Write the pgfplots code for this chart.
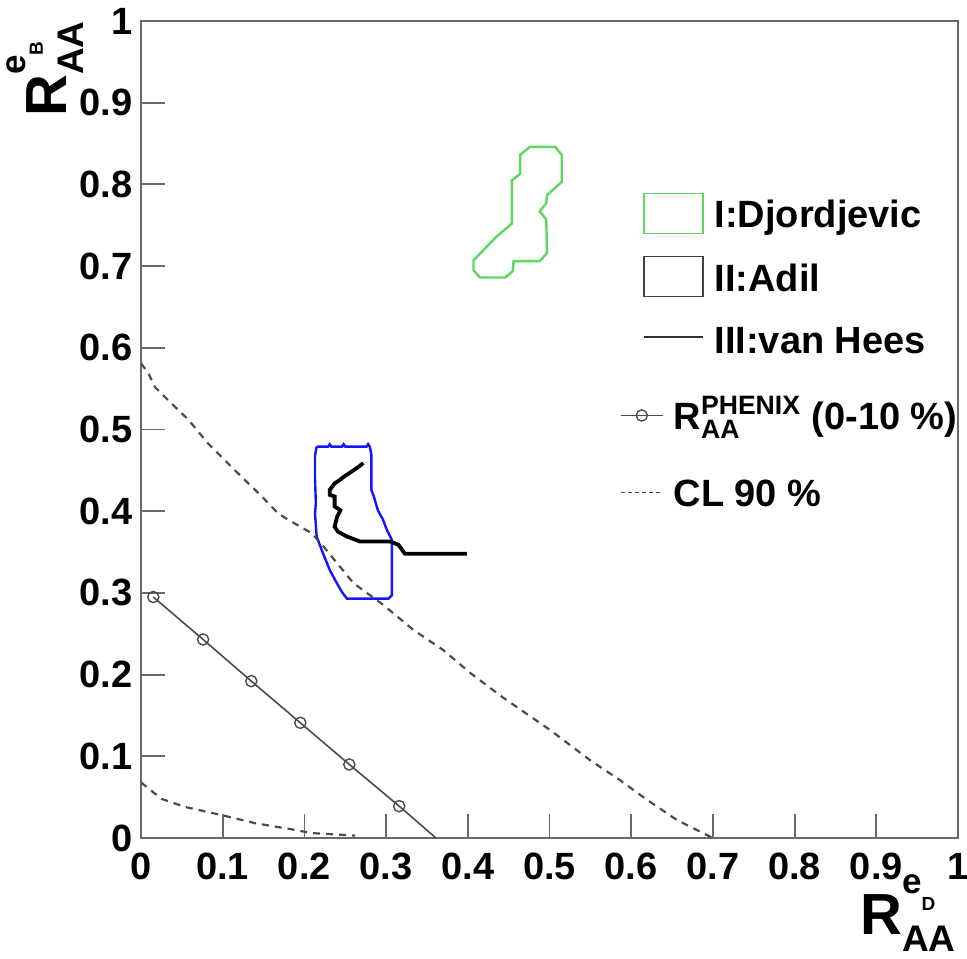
\documentclass[border=0pt]{standalone}
\usepackage{pgfplots}
\pgfplotsset{compat=1.18}
\usepackage{amsmath}
\usepackage{fontspec}
\setmainfont{Liberation Sans}
\definecolor{cgreen}{RGB}{95,215,95}
\definecolor{cblue}{RGB}{20,20,255}
\definecolor{caxis}{RGB}{105,105,105}
\definecolor{cdash}{RGB}{75,75,75}
\newcommand{\RAA}[1]{\bfseries\fontsize{29}{29}\selectfont R\makebox[0pt][l]{\raisebox{20.5pt}{\fontsize{17.5}{17.5}\selectfont e\raisebox{-8.5pt}{\fontsize{9.5}{9.5}\selectfont #1}}}\raisebox{-8.5pt}{\fontsize{18.5}{18.5}\selectfont AA}}
\begin{document}
\begin{tikzpicture}
\begin{axis}[
  scale only axis, width=408.5pt, height=408.5pt,
  xmin=0, xmax=1, ymin=0, ymax=1,
  xtick={0,0.1,0.2,0.3,0.4,0.5,0.6,0.7,0.8,0.9,1},
  ytick={0,0.1,0.2,0.3,0.4,0.5,0.6,0.7,0.8,0.9,1},
  xtick pos=bottom, ytick pos=left,
  tick align=inside,
  major tick length=12pt,
  axis line style={caxis, line width=1.1pt},
  every tick/.style={caxis, line width=0.9pt},
  /pgf/number format/assume math mode=true,
  ticklabel style={font=\fontsize{19}{19}\selectfont\bfseries},
  yticklabel style={inner sep=0pt, anchor=east, xshift=-4pt},
  xticklabel style={inner sep=0pt, anchor=north, yshift=-7.5pt},
  xlabel={\RAA{D}},
  ylabel={\RAA{B}},
  every axis x label/.style={at={(axis description cs:0.9975,-0.118)}, anchor=base east, inner sep=0pt},
  every axis y label/.style={at={(axis description cs:-0.0906,1.0)}, rotate=90, anchor=base east, inner sep=0pt},
  legend style={at={(axis cs:0.6144,0.790)}, anchor=north west, draw=none, fill=none,
    inner sep=0pt, outer sep=0pt, font=\fontsize{19}{19}\selectfont\bfseries,
    nodes={inner sep=0pt, text height=14pt, text depth=4.5pt},
    column sep=5.5pt, row sep=9.5pt},
  legend cell align=left,
  clip=false,
]
% legend entries
\addlegendimage{legend image code/.code={\draw[cgreen, line width=0.8pt] (0pt,-7.5pt) rectangle (29.5pt,12.5pt);}}
\addlegendentry{I:Djordjevic}
\addlegendimage{legend image code/.code={\draw[black!75, line width=0.8pt] (0pt,-7.5pt) rectangle (29.5pt,12.5pt);}}
\addlegendentry{II:Adil}
\addlegendimage{legend image code/.code={\path[draw=none, fill=none] (0pt,-7.5pt) rectangle (1pt,12.5pt); \draw[black!80, line width=0.8pt] (0pt,3.5pt) -- (29.5pt,3.5pt);}}
\addlegendentry{III:van Hees}

% I: Djordjevic contour (green)
\addplot[cgreen, line width=1.2pt, forget plot] coordinates {
(0.476,0.846)(0.507,0.846)(0.515,0.836)(0.515,0.803)(0.497,0.787)(0.496,0.777)
(0.488,0.767)(0.496,0.757)(0.497,0.716)(0.488,0.706)(0.456,0.706)(0.455,0.694)
(0.446,0.686)(0.415,0.686)(0.407,0.695)(0.407,0.707)(0.435,0.736)(0.454,0.752)
(0.454,0.805)(0.464,0.813)(0.464,0.836)(0.476,0.846)};

% II: Adil contour (blue)
\addplot[cblue, line width=1.2pt, forget plot] coordinates {
(0.215,0.479)(0.229,0.479)(0.231,0.482)(0.233,0.479)(0.246,0.479)(0.248,0.482)(0.250,0.479)
(0.276,0.479)(0.278,0.482)(0.280,0.479)(0.282,0.469)(0.282,0.426)(0.285,0.418)(0.290,0.401)
(0.296,0.390)(0.301,0.377)(0.307,0.365)(0.307,0.297)(0.303,0.293)(0.252,0.293)
(0.246,0.301)(0.238,0.315)(0.231,0.328)(0.221,0.353)(0.215,0.369)(0.213,0.397)
(0.214,0.410)(0.213,0.440)(0.213,0.468)(0.215,0.479)};

% III: van Hees (black)
\addplot[black, line width=1.9pt, forget plot] coordinates {
(0.272,0.459)(0.266,0.454)(0.260,0.450)(0.254,0.446)(0.248,0.442)(0.243,0.438)(0.237,0.434)
(0.231,0.426)(0.231,0.420)(0.237,0.418)(0.237,0.406)(0.244,0.401)(0.240,0.393)
(0.237,0.381)(0.241,0.375)(0.252,0.369)(0.268,0.363)(0.305,0.363)(0.315,0.359)
(0.323,0.348)(0.399,0.348)};
\end{axis}

\begin{axis}[
  scale only axis, width=408.5pt, height=408.5pt,
  xmin=0, xmax=1, ymin=0, ymax=1,
  hide axis,
  legend style={at={(axis cs:0.5863,0.5337)}, anchor=north west, draw=none, fill=none,
    inner sep=0pt, outer sep=0pt, font=\fontsize{19}{19}\selectfont\bfseries,
    nodes={inner sep=0pt, text height=14pt, text depth=4.5pt},
    column sep=5pt, row sep=20pt},
  legend cell align=left,
]
% PHENIX R_AA (0-10%)
\addplot[cdash, line width=0.8pt, mark=o, mark size=2.8pt, mark indices={1,2,3,4,5,6},
  mark options={solid, cdash, line width=0.7pt},
  legend image code/.code={\draw[mark indices={2}, mark size=2.8pt] plot coordinates {(0pt,2.5pt)(10.5pt,2.5pt)(21pt,2.5pt)};}]
coordinates {
(0.015,0.295)(0.076,0.243)(0.135,0.192)(0.195,0.141)(0.255,0.090)(0.316,0.039)(0.361,0)};
% CL 90% (dashed)
\addplot[cdash, line width=1.1pt, dash pattern=on 3.5pt off 3pt,
  legend image code/.code={\draw[cdash, line width=0.8pt, dash pattern=on 2pt off 1.5pt] (0pt,2.5pt) -- (21pt,2.5pt);}]
coordinates {
(0,0.581)(0.009,0.569)(0.017,0.552)(0.033,0.536)(0.058,0.512)(0.082,0.483)
(0.115,0.450)(0.148,0.418)(0.168,0.397)(0.188,0.385)(0.209,0.373)(0.224,0.356)
(0.260,0.312)(0.297,0.285)(0.333,0.255)(0.370,0.230)(0.403,0.202)(0.443,0.172)
(0.501,0.132)(0.550,0.095)(0.586,0.071)(0.619,0.047)(0.656,0.022)(0.696,0.002)(0.699,0)};
\addplot[cdash, line width=1.1pt, dash pattern=on 3.5pt off 3pt, forget plot] coordinates {
(0,0.068)(0.025,0.048)(0.054,0.038)(0.099,0.028)(0.140,0.018)(0.188,0.010)
(0.209,0.006)(0.262,0.003)};
\legend{$\text{R}^{\text{PHENIX}}_{\text{AA}}$ (0-10 \%), CL 90 \%}
\end{axis}
\pgfresetboundingbox
\path[use as bounding box] (-70.5pt,-60pt) rectangle (413pt,419pt);
\end{tikzpicture}
\end{document}
